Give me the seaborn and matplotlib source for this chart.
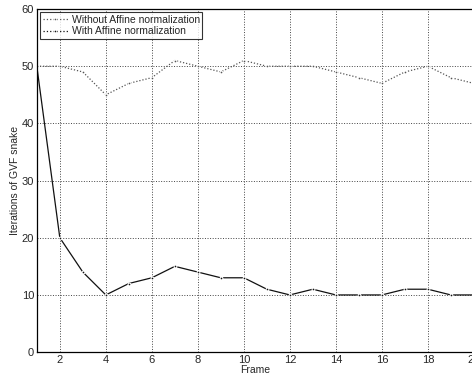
import pandas as pd
import matplotlib
matplotlib.use("Agg")
import matplotlib.pyplot as plt
import seaborn as sns

frames = list(range(1, 21))
without_affine = [50, 50, 49, 45, 47, 48, 51, 50, 49, 51, 50, 50, 50, 49, 48, 47, 49, 50, 48, 47]
with_affine = [50, 20, 14, 10, 12, 13, 15, 14, 13, 13, 11, 10, 11, 10, 10, 10, 11, 11, 10, 10]
labels = ["Without Affine normalization", "With Affine normalization"]

df = pd.DataFrame({
    "Frame": frames * 2,
    "Iterations": without_affine + with_affine,
    "Series": [labels[0]] * 20 + [labels[1]] * 20,
})

sns.set_style("white")
plt.rcParams["font.family"] = ["Liberation Sans", "DejaVu Sans"]

fig = plt.figure(figsize=(4.72, 3.77), dpi=100)
ax = fig.add_axes([0.078, 0.066, 0.926, 0.910])

sns.lineplot(data=df, x="Frame", y="Iterations", hue="Series", style="Series",
             palette={labels[0]: "#555555", labels[1]: "#111111"},
             dashes={labels[0]: (1, 1.5), labels[1]: ""},
             markers={labels[0]: ".", labels[1]: "."},
             markersize=4, linewidth=0.9, ax=ax)

ax.set_xlim(1, 20)
ax.set_ylim(0, 60)
ax.set_xticks(range(2, 21, 2))
ax.set_yticks(range(0, 61, 10))
ax.grid(True, linestyle=":", color="#444444", linewidth=0.7)
ax.tick_params(direction="in", labelsize=8, length=3, pad=2)
for s in ax.spines.values():
    s.set_color("black")
    s.set_linewidth(0.9)
ax.set_xlabel("Frame", fontsize=7.5, labelpad=0)
ax.set_ylabel("Iterations of GVF snake", fontsize=7.5, labelpad=1)

leg = ax.legend(loc="upper left", fontsize=7.5, frameon=True, fancybox=False,
                edgecolor="black", borderpad=0.25, labelspacing=0.15,
                handlelength=2.4, handletextpad=0.4, borderaxespad=0.3)
leg.get_frame().set_linewidth(0.8)
for h in leg.get_lines():
    h.set_linestyle(":")

fig.savefig("out.png", dpi=100)
